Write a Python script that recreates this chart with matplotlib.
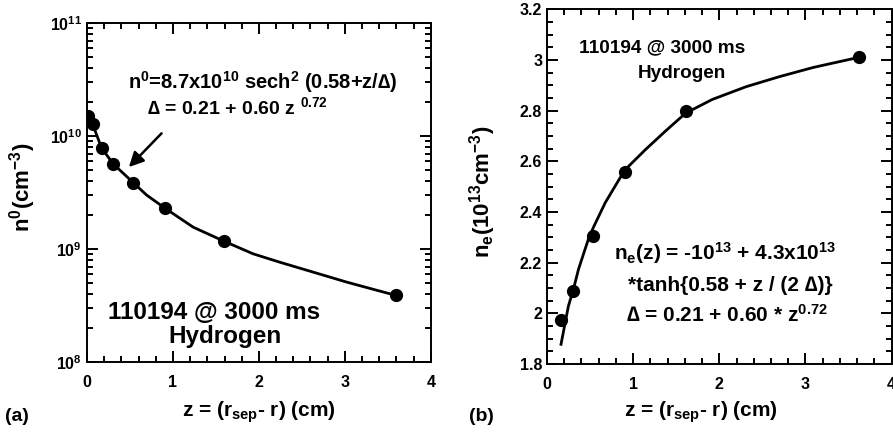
import numpy as np
import matplotlib
matplotlib.use("Agg")
from matplotlib import pyplot as plt
from matplotlib.ticker import MultipleLocator, LogLocator, NullFormatter

plt.rcParams['font.family'] = ['Liberation Sans', 'DejaVu Sans']
plt.rcParams['font.weight'] = 'bold'
plt.rcParams['mathtext.fontset'] = 'custom'
plt.rcParams['mathtext.rm'] = 'Liberation Sans:bold'
plt.rcParams['mathtext.it'] = 'Liberation Sans:bold'
plt.rcParams['mathtext.bf'] = 'Liberation Sans:bold'

# panel (a): neutral density
z_a = [0.01, 0.066, 0.17, 0.306, 0.54, 0.907, 1.597, 3.593]
n0_a = [1.5e10, 1.27e10, 7.83e9, 5.65e9, 3.86e9, 2.3e9, 1.17e9, 3.89e8]
fit_z_a = [0.01, 0.066, 0.17, 0.306, 0.54, 0.694, 0.907, 1.236, 1.597, 1.934, 2.244,
           2.63, 3.02, 3.33, 3.593]
fit_n_a = [1.5e10, 1.27e10, 7.83e9, 5.65e9, 3.86e9, 3.0e9, 2.3e9, 1.56e9, 1.17e9, 9.06e8,
           7.64e8, 6.25e8, 5.1e8, 4.4e8, 3.89e8]

# panel (b): electron density (1e13 cm^-3)
z_b = [0.163, 0.307, 0.54, 0.902, 1.61, 3.62]
ne_b = [1.972, 2.088, 2.305, 2.557, 2.80, 3.01]
fit_z_b = [0.163, 0.249, 0.307, 0.366, 0.48, 0.54, 0.677, 0.902, 1.14, 1.378, 1.61,
           1.92, 2.31, 2.70, 3.09, 3.62]
fit_n_b = [1.878, 2.029, 2.095, 2.174, 2.292, 2.34, 2.437, 2.565, 2.645, 2.72, 2.79,
           2.844, 2.894, 2.934, 2.97, 3.01]

fig = plt.figure(figsize=(8.93, 4.36), dpi=100)
ax1 = fig.add_axes([0.0974, 0.1697, 0.385, 0.7775])
ax2 = fig.add_axes([0.6125, 0.165, 0.386, 0.814])

# (a)
ax1.plot(fit_z_a, fit_n_a, color='black', lw=2)
ax1.plot(z_a, n0_a, 'o', color='black', ms=8.5)
ax1.set_yscale('log')
ax1.set_xlim(0, 4)
ax1.set_ylim(1e8, 1e11)
ax1.xaxis.set_major_locator(MultipleLocator(1))
ax1.xaxis.set_minor_locator(MultipleLocator(0.2))
ax1.yaxis.set_minor_locator(LogLocator(base=10, subs=np.arange(2, 10)))
ax1.yaxis.set_minor_formatter(NullFormatter())
ax1.annotate('', xy=(0.465, 5.1e9), xytext=(0.89, 1.1e10),
             arrowprops=dict(arrowstyle='-|>', color='black', lw=1.8, mutation_scale=22))
ax1.text(0.51, 0.826, r'n$^0$=8.7x10$^{10}$ sech$^2$ (0.58+z/∆)', transform=ax1.transAxes,
         ha='center', va='center', fontsize=14.5)
ax1.text(0.174, 0.752, r'∆ = 0.21 + 0.60 z $^{0.72}$', transform=ax1.transAxes,
         ha='left', va='center', fontsize=14)
ax1.text(0.369, 0.147, '110194 @ 3000 ms', transform=ax1.transAxes,
         ha='center', va='center', fontsize=17.5)
ax1.text(0.40, 0.074, 'Hydrogen', transform=ax1.transAxes,
         ha='center', va='center', fontsize=17.5)

# (b)
ax2.plot(fit_z_b, fit_n_b, color='black', lw=2)
ax2.plot(z_b, ne_b, 'o', color='black', ms=8.5)
ax2.set_xlim(0, 4)
ax2.set_ylim(1.8, 3.2)
ax2.xaxis.set_major_locator(MultipleLocator(1))
ax2.xaxis.set_minor_locator(MultipleLocator(0.2))
ax2.yaxis.set_major_locator(MultipleLocator(0.2))
ax2.yaxis.set_minor_locator(MultipleLocator(0.05))
ax2.yaxis.set_major_formatter(lambda v, pos: f'{v:g}')
ax2.text(0.333, 0.89, '110194 @ 3000 ms', transform=ax2.transAxes,
         ha='center', va='center', fontsize=13.7)
ax2.text(0.39, 0.82, 'Hydrogen', transform=ax2.transAxes,
         ha='center', va='center', fontsize=13.7)
ax2.text(0.517, 0.313, r'n$_{\rm e}$(z) = -10$^{13}$ + 4.3x10$^{13}$', transform=ax2.transAxes,
         ha='center', va='center', fontsize=15)
ax2.text(0.532, 0.222, '*tanh{0.58 + z / (2 ∆)}', transform=ax2.transAxes,
         ha='center', va='center', fontsize=15)
ax2.text(0.523, 0.138, r'∆ = 0.21 + 0.60 * z$^{0.72}$', transform=ax2.transAxes,
         ha='center', va='center', fontsize=15)

for ax in (ax1, ax2):
    ax.tick_params(which='both', direction='in', top=True, right=True, width=1.4,
                   color='black')
    ax.tick_params(which='major', length=8, labelsize=11.5)
    ax.tick_params(which='minor', length=4.5)
    ax.tick_params(axis='x', pad=9)
    for s in ax.spines.values():
        s.set_linewidth(1.4)

# axis labels and panel tags
fig.text(0.29, 0.055, r'z = (r$_{\rm sep}$- r) (cm)', ha='center', va='center', fontsize=15)
fig.text(0.785, 0.055, r'z = (r$_{\rm sep}$- r) (cm)', ha='center', va='center', fontsize=15)
fig.text(0.025, 0.57, r'n$^0$(cm$^{-3}$)', ha='center', va='center', rotation=90, fontsize=16)
fig.text(0.54, 0.56, r'n$_{\rm e}$(10$^{13}$cm$^{-3}$)', ha='center', va='center',
         rotation=90, fontsize=16)
fig.text(0.006, 0.045, '(a)', ha='left', va='center', fontsize=14)
fig.text(0.525, 0.045, '(b)', ha='left', va='center', fontsize=14)

fig.savefig('out.png', dpi=100)
